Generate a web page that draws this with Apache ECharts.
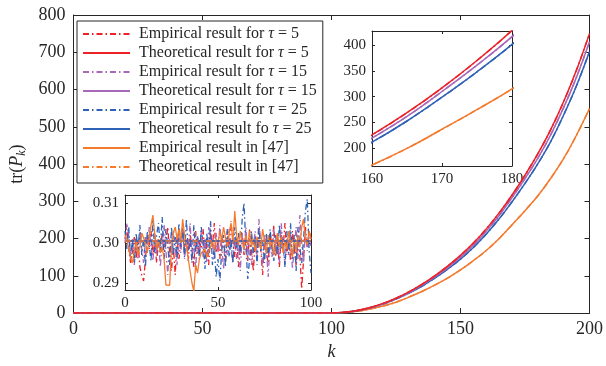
<!DOCTYPE html>
<html>
<head>
<meta charset="utf-8">
<script src="https://cdn.jsdelivr.net/npm/echarts@6/dist/echarts.min.js"></script>
<style>html,body{margin:0;padding:0;background:#fff}#c{width:606px;height:366px}</style>
</head>
<body>
<div id="c"></div>
<script>
// ---------- data ----------
const kMain = [0,100,105,110,115,120,125,130,135,140,145,150,155,160,165,170,175,180,185,190,195,200];
const tau5   = [0.3,0.3,2,7,15,26,40,57,77,100,126,155,188,226,269,317,370,428,493,568,653,750];
const tau15  = [0.3,0.3,2,6.8,14.5,25,39,55,75,97,122,150,182,220,262,310,361,416,479,552,634,728];
const tau25  = [0.3,0.3,1.9,6.5,14,24.3,37.4,53.4,72,93.6,118,145,176,212,253,299,348,401,461,532,611,702];
const ref47  = [0.3,0.3,1.5,5,11,19,29,43,58,75,94,116,141,168,200,237,275,315,362,415,478,549];

const mainXTicks = [0,50,100,150,200];
const mainYTicks = [0,100,200,300,400,500,600,700,800];
const inset1XTicks = [160,170,180];
const inset1YTicks = [200,250,300,350,400];
const inset2XTicks = [0,50,100];
const inset2YTicks = [0.29,0.30,0.31];

const empInset5 = [
0.3010,0.3035,0.2985,0.2950,0.2975,0.3015,0.2960,0.3005,0.2940,0.2920,
0.2905,0.2960,0.3020,0.2985,0.3030,0.2970,0.3005,0.2950,0.3010,0.2980,
0.3025,0.2965,0.3000,0.3040,0.2975,0.2930,0.2990,0.2920,0.3015,0.2960,
0.3005,0.3045,0.2980,0.3010,0.2955,0.3020,0.2990,0.2940,0.3030,0.2970,
0.3005,0.2985,0.3035,0.2960,0.3000,0.2945,0.3025,0.2990,0.3050,0.2975,
0.3010,0.2960,0.3020,0.2995,0.2950,0.3030,0.2985,0.3055,0.3000,0.2965,
0.3015,0.2940,0.2990,0.3025,0.2970,0.3010,0.2955,0.3035,0.2980,0.2930,
0.3005,0.2960,0.3040,0.2985,0.2920,0.3010,0.2975,0.2950,0.3025,0.2990,
0.3045,0.2965,0.3005,0.2940,0.3020,0.2985,0.3050,0.2970,0.3010,0.2955,
0.3030,0.2990,0.2945,0.3020,0.2970,0.2885,0.2960,0.3040,0.2990,0.3030,0.3010];
const empInset15 = [
0.3000,0.3050,0.3020,0.2970,0.3010,0.2945,0.3000,0.2960,0.3030,0.2985,
0.2950,0.3015,0.2975,0.3040,0.2990,0.2955,0.3025,0.2970,0.3010,0.2940,
0.3000,0.3045,0.2980,0.2920,0.3010,0.2965,0.3030,0.2990,0.2945,0.3020,
0.2975,0.3035,0.2960,0.3005,0.2985,0.3050,0.2970,0.2995,0.2935,0.3015,
0.2980,0.3030,0.2965,0.3010,0.2950,0.3040,0.2990,0.3000,0.2960,0.3025,
0.2975,0.3045,0.2990,0.2935,0.3010,0.2970,0.3035,0.2985,0.2950,0.3015,
0.2960,0.3000,0.2930,0.3025,0.2980,0.3040,0.2965,0.3010,0.2945,0.2990,
0.3030,0.2970,0.3060,0.2995,0.2940,0.3020,0.2985,0.2915,0.3005,0.2965,
0.3035,0.2975,0.3015,0.2950,0.3050,0.2990,0.2945,0.3010,0.2970,0.3025,
0.2935,0.2985,0.3040,0.2960,0.3070,0.3000,0.2950,0.3030,0.2980,0.3015,0.2990];
const empInset25 = [
0.3030,0.2985,0.3040,0.2960,0.3010,0.2950,0.3025,0.2980,0.3045,0.2970,
0.3015,0.2940,0.3030,0.2995,0.2955,0.3060,0.2975,0.3020,0.3050,0.2985,
0.3065,0.2960,0.3035,0.2990,0.2945,0.3040,0.2970,0.3015,0.2960,0.3050,
0.2990,0.3035,0.2965,0.3060,0.2980,0.3010,0.2950,0.3045,0.2975,0.3020,
0.2960,0.3040,0.3000,0.2935,0.3025,0.2970,0.3055,0.2945,0.2990,0.2915,
0.2960,0.2905,0.2980,0.3020,0.2940,0.3035,0.2965,0.3010,0.2950,0.3040,
0.2985,0.3025,0.2970,0.3060,0.3100,0.2990,0.2910,0.2960,0.3030,0.2975,
0.3015,0.2945,0.3040,0.2980,0.3005,0.2950,0.3025,0.2965,0.3035,0.2990,
0.2955,0.3020,0.2970,0.3045,0.2985,0.3010,0.2940,0.3030,0.2975,0.3050,
0.2960,0.3020,0.2930,0.3040,0.2990,0.2950,0.3010,0.3080,0.3110,0.2980,0.2925];
const empInset47 = [
0.3020,0.3010,0.2985,0.2965,0.2950,0.2980,0.3005,0.2970,0.2990,0.3025,
0.3030,0.3000,0.2975,0.3015,0.3045,0.3070,0.3020,0.2985,0.3010,0.2975,
0.2990,0.2960,0.2895,0.2893,0.2894,0.2990,0.3025,0.3040,0.3010,0.3035,
0.3000,0.3060,0.3020,0.2995,0.2960,0.2930,0.2900,0.2880,0.2945,0.2925,
0.2960,0.2975,0.2970,0.2985,0.2965,0.2980,0.2990,0.3005,0.2985,0.3010,
0.3000,0.3030,0.3005,0.3040,0.3015,0.2990,0.3025,0.3050,0.3000,0.3080,
0.3020,0.2995,0.3030,0.3005,0.2985,0.3020,0.2995,0.3030,0.2990,0.3010,
0.2980,0.3015,0.3000,0.2985,0.3035,0.3005,0.2975,0.3020,0.2990,0.3010,
0.2970,0.3000,0.3025,0.2990,0.3015,0.2975,0.3005,0.2985,0.3030,0.2995,
0.2965,0.3010,0.2980,0.3020,0.2990,0.3040,0.3060,0.3010,0.2995,0.3030,0.3010];
const theoryInsetValue = 0.3005;
const theoryInsetK = [0,100];

const names = [
  'Empirical result for τ = 5',
  'Theoretical result for τ = 5',
  'Empirical result for τ = 15',
  'Theoretical result for τ = 15',
  'Empirical result for τ = 25',
  'Theoretical result fo τ = 25',
  'Empirical result in [47]',
  'Theoretical result in [47]'
];

// ---------- styles ----------
const FONT = "'Liberation Serif','Times New Roman',serif";
const AX = '#262626';
const RED = '#ec2227', PUR = '#a768b8', BLU = '#2f62b6', ORA = '#f47a2e';
const DASHDOT = [6,3,1.5,3];

function pairs(xs, ys){ return xs.map((x,i)=>[x, ys[i]]); }
function idx(ys){ return ys.map((y,i)=>[i, y]); }

function xAxes(g, min, max, interval, fs, tickLen, margin){
  const base = {gridIndex:g, type:'value', min, max, interval, z:3,
    axisLine:{show:true, onZero:false, lineStyle:{color:AX, width:1}},
    axisTick:{show:true, inside:true, length:tickLen, lineStyle:{color:AX}},
    splitLine:{show:false}};
  return [
    Object.assign({}, base, {position:'bottom',
      axisLabel:{show:true, fontFamily:FONT, fontSize:fs, color:AX, margin}}),
    Object.assign({}, base, {position:'top', axisLabel:{show:false}})
  ];
}
function yAxes(g, min, max, ticks, fs, tickLen, margin, fmt){
  const base = {gridIndex:g, type:'value', min, max, z:3,
    axisLine:{show:true, onZero:false, lineStyle:{color:AX, width:1}},
    axisTick:{show:true, inside:true, length:tickLen, lineStyle:{color:AX}, customValues:ticks},
    splitLine:{show:false}};
  return [
    Object.assign({}, base, {position:'left',
      axisLabel:{show:true, fontFamily:FONT, fontSize:fs, color:AX, margin, customValues:ticks,
        formatter: fmt || (v=>String(v))}}),
    Object.assign({}, base, {position:'right', axisLabel:{show:false, customValues:ticks}})
  ];
}

const xs = [
  ...xAxes(0, 0, 200, 50, 18, 5, 7),
  ...xAxes(1, 160, 180, 10, 15, 3, 6),
  ...xAxes(2, 0, 100, 50, 15, 3, 6)
];
xs[0].name = 'k';
xs[0].nameLocation = 'middle';
xs[0].nameGap = 21;
xs[0].nameTextStyle = {fontFamily:FONT, fontSize:18, fontStyle:'italic', color:AX};

const ys = [
  ...yAxes(0, 0, 800, mainYTicks, 18, 5, 8),
  ...yAxes(1, 166, 427, inset1YTicks, 15, 3, 6),
  ...yAxes(2, 0.28825, 0.312, inset2YTicks, 15, 3, 6, v=>v.toFixed(2))
];
ys[0].name = '{a|tr(}{b|P}{c|k}{a|)}';
ys[0].nameLocation = 'middle';
ys[0].nameGap = 38;
ys[0].nameTextStyle = {rich:{
  a:{fontFamily:FONT, fontSize:18, color:AX},
  b:{fontFamily:FONT, fontSize:18, fontStyle:'italic', color:AX},
  c:{fontFamily:FONT, fontSize:12, fontStyle:'italic', color:AX, padding:[9,0,0,0]}
}};

function line(name, data, color, dashed, xi, yi, width){
  return {name, type:'line', data, xAxisIndex:xi, yAxisIndex:yi, showSymbol:false, symbol:'none',
    smooth: data.length < 40 ? 0.4 : false, animation:false,
    lineStyle:{color, width: width||1.5, type: dashed ? DASHDOT : 'solid'},
    itemStyle:{color}};
}

const series = [];
// main plot + inset 1 (same data, two views)
[[0,0],[2,2]].forEach(([xi,yi])=>{
  series.push(line(names[6], pairs(kMain, ref47), ORA, false, xi, yi));
  series.push(line(names[7], pairs(kMain, ref47), ORA, true,  xi, yi));
  series.push(line(names[5], pairs(kMain, tau25), BLU, false, xi, yi));
  series.push(line(names[4], pairs(kMain, tau25), BLU, true,  xi, yi));
  series.push(line(names[3], pairs(kMain, tau15), PUR, false, xi, yi));
  series.push(line(names[2], pairs(kMain, tau15), PUR, true,  xi, yi));
  series.push(line(names[1], pairs(kMain, tau5),  RED, false, xi, yi));
  series.push(line(names[0], pairs(kMain, tau5),  RED, true,  xi, yi));
});
// inset 2 (k = 0..100)
series.push(line(names[0], idx(empInset5),  RED, true,  4, 4, 1.3));
series.push(line(names[2], idx(empInset15), PUR, true,  4, 4, 1.3));
series.push(line(names[4], idx(empInset25), BLU, true,  4, 4, 1.3));
series.push(line(names[6], idx(empInset47), ORA, false, 4, 4, 1.3));
const flat = theoryInsetK.map(k=>[k, theoryInsetValue]);
series.push(line(names[1], flat, RED, false, 4, 4, 1.3));
series.push(line(names[3], flat, PUR, false, 4, 4, 1.3));
series.push(line(names[5], flat, BLU, false, 4, 4, 1.3));
series.push(line(names[7], flat, ORA, true, 4, 4, 1.3));

const option = {
  backgroundColor:'#fff',
  animation:false,
  grid:[
    {left:72, top:15, width:520, height:309, show:false},
    {left:372, top:31, width:140, height:135, show:true, backgroundColor:'#fff', borderWidth:0},
    {left:125, top:195, width:186, height:95, show:true, backgroundColor:'#fff', borderWidth:0}
  ],
  xAxis: xs,
  yAxis: ys,
  legend:{
    show:true, orient:'vertical', left:77, top:21,
    data: names,
    backgroundColor:'#fff', borderColor:AX, borderWidth:1,
    padding:[5,6,8,5], itemWidth:47, itemHeight:14, itemGap:3,
    selectedMode:false,
    itemStyle:{color:'rgba(0,0,0,0)', borderColor:'rgba(0,0,0,0)', borderWidth:0},
    formatter: n => n.replace('τ', '{i|τ}'),
    textStyle:{fontFamily:FONT, fontSize:16, color:AX, lineHeight:14, padding:[0,0,0,4],
      rich:{i:{fontFamily:FONT, fontSize:16, fontStyle:'italic', color:AX, lineHeight:14}}}
  },
  series
};

const chart = echarts.init(document.getElementById('c'), null, {renderer:'canvas'});
chart.setOption(option);
</script>
</body>
</html>
